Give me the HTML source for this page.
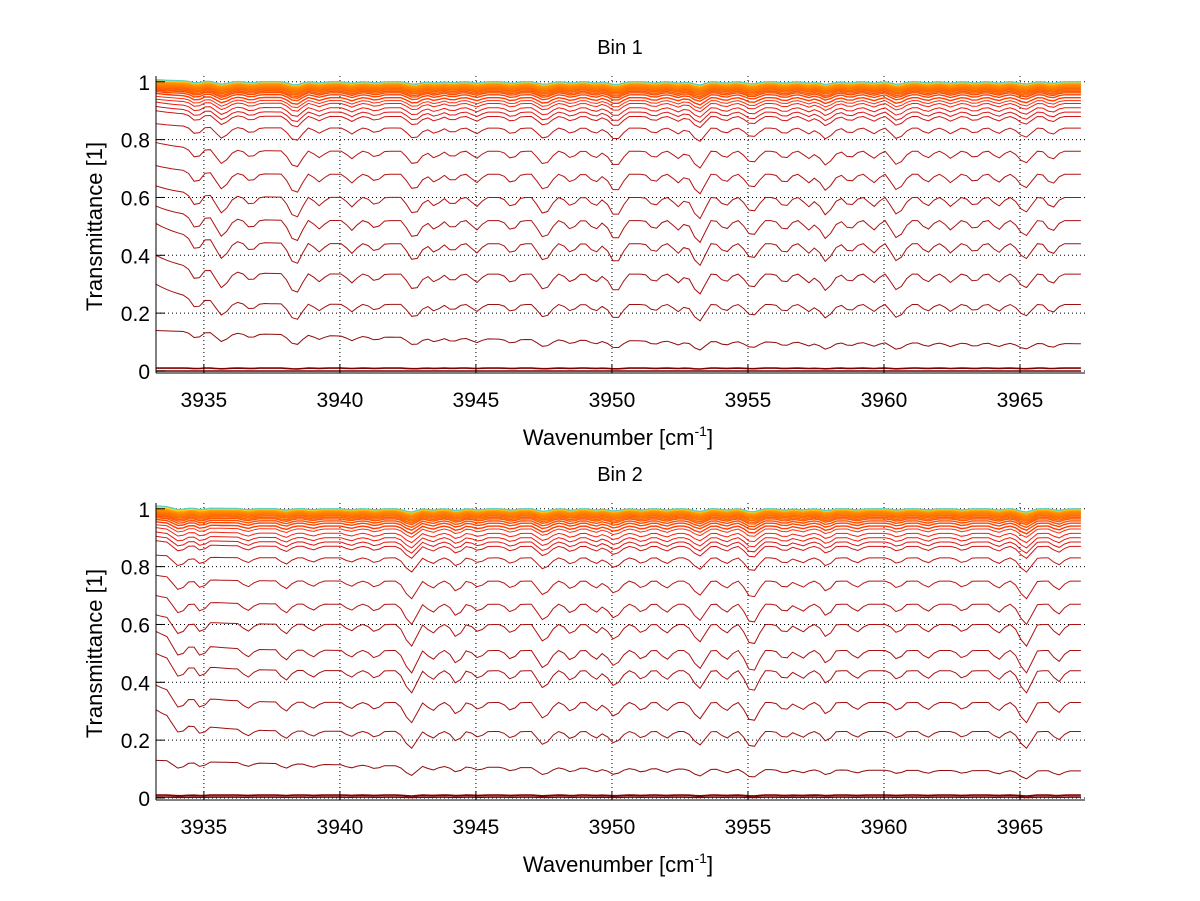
<!DOCTYPE html>
<html><head><meta charset="utf-8"><style>
body{margin:0;background:#fff}
svg{display:block}
text{font-family:"Liberation Sans",sans-serif;fill:#000}
</style></head><body>
<svg id="fig" width="1200" height="901" viewBox="0 0 1200 901" xmlns="http://www.w3.org/2000/svg">
<rect width="1200" height="901" fill="#fff"/>
</svg>
<script>
// ---- data ----
const xTicks = [3935, 3940, 3945, 3950, 3955, 3960, 3965];
const yTicks = [0, 0.2, 0.4, 0.6, 0.8, 1];
const yTickLabels = ["0", "0.2", "0.4", "0.6", "0.8", "1"];
const xDomain = [3933.24, 3967.39];
const yDomain = [-0.007, 1.02];
// absorption line positions (cm^-1) and relative strengths
const bin1LinePos = [3934.72,3935.68,3936.73,3938.36,3939.24,3940.44,3941.31,3942.73,3943.49,3944.14,3945.02,3946.32,3947.52,3948.5,3949.38,3950.14,3951.56,3952.43,3953.19,3954.17,3955.15,3956.35,3957.23,3957.88,3958.75,3959.62,3960.5,3961.59,3962.46,3963.33,3964.2,3965.18,3966.17];
const bin1LineStr = [0.6,0.8,0.4,1.0,0.35,0.4,0.35,0.8,0.4,0.35,0.4,0.45,0.8,0.4,0.4,0.9,0.4,0.4,1.0,0.4,0.7,0.45,0.4,0.8,0.4,0.4,0.8,0.4,0.4,0.4,0.4,0.7,0.5];
const bin2LinePos = [3934.1,3934.9,3936.6,3938.0,3939.0,3940.4,3941.3,3942.6,3943.4,3944.3,3945.1,3946.3,3947.5,3948.5,3949.4,3950.1,3951.1,3952.0,3953.2,3954.2,3955.15,3956.35,3957.0,3957.9,3959.0,3960.5,3961.6,3962.9,3964.2,3965.2,3966.4];
const bin2LineStr = [0.7,0.5,0.35,0.45,0.3,0.3,0.35,1.0,0.4,0.6,0.35,0.4,0.8,0.45,0.4,0.7,0.4,0.4,0.8,0.4,1.0,0.4,0.35,0.6,0.35,0.4,0.35,0.35,0.4,1.0,0.5];
// series baseline levels: start (left edge) and mean
const bin1Start = [0.0,0.01,0.14,0.30,0.40,0.51,0.57,0.64,0.71,0.79,0.855,0.90,0.915,0.93,0.94,0.95,0.96,0.966,0.971,0.975,0.979,0.983,0.986,0.989,0.992,0.995,0.998,1.001,1.004,1.007];
const bin1Mean  = [0.0,0.01,0.09,0.23,0.335,0.44,0.52,0.60,0.68,0.76,0.84,0.88,0.895,0.91,0.925,0.935,0.945,0.955,0.962,0.967,0.972,0.976,0.98,0.983,0.986,0.989,0.992,0.995,0.998,1.0];
const bin2Start = [0.003,0.01,0.13,0.305,0.39,0.50,0.576,0.633,0.70,0.77,0.84,0.89,0.905,0.92,0.935,0.945,0.955,0.963,0.969,0.974,0.978,0.982,0.986,0.989,0.992,0.995,0.998,1.001,1.004,1.01];
const bin2Mean  = [0.003,0.01,0.09,0.23,0.33,0.44,0.51,0.60,0.67,0.75,0.83,0.87,0.885,0.90,0.915,0.93,0.94,0.95,0.958,0.965,0.97,0.975,0.979,0.983,0.986,0.989,0.992,0.995,0.998,1.0];
const seriesColor = ["#7a0000","#800000","#900a0a","#a01010","#a51010","#a81111","#ac1212","#b01212","#b41313","#b81414","#c01414","#d41414","#e01414","#ea1a10","#f42210","#ff2e10","#ff3a00","#ff4400","#ff4e00","#ff5800","#ff6000","#ff6800","#ff7000","#ff7800","#ff8000","#ff8800","#ff9400","#ffa800","#ffd020","#60d0c0"];

// ---- drawing ----
const NS = "http://www.w3.org/2000/svg";
const svg = document.getElementById("fig");
const X0 = 156, X1 = 1085;
function mk(tag, attrs, parent) {
  const e = document.createElementNS(NS, tag);
  for (const k in attrs) e.setAttribute(k, attrs[k]);
  (parent || svg).appendChild(e);
  return e;
}
function xScale(v) { return X0 + (v - xDomain[0]) / (xDomain[1] - xDomain[0]) * (X1 - X0); }

function drawPanel(idx, top, bottom, title, linePos, lineStr, starts, means) {
  const yScale = v => bottom - (v - yDomain[0]) / (yDomain[1] - yDomain[0]) * (bottom - top);
  const g = mk("g", {});
  
  
  const cp = mk("clipPath", {id: "clip" + idx}, g);
  mk("rect", {x: X0, y: top - 3, width: X1 - X0, height: bottom - top + 3}, cp);
  const grid = mk("g", {stroke: "#000", "stroke-width": 1, "stroke-dasharray": "1,3"}, g);
  
  
  xTicks.forEach(t => mk("line", {x1: xScale(t), x2: xScale(t), y1: top, y2: bottom}, grid));
  yTicks.forEach(t => mk("line", {x1: X0, x2: X1, y1: yScale(t), y2: yScale(t)}, grid));
  const sg = mk("g", {"clip-path": "url(#clip" + idx + ")", fill: "none"}, g);
  
  
  for (let s = 0; s < starts.length; s++) {
    let d = "";
    for (let x = xDomain[0]; x <= xDomain[1] + 0.01; x += 0.2) {
      const decay = s === 2 ? 14 : 1.3;
      const base = means[s] + (starts[s] - means[s]) * Math.exp(-(x - xDomain[0]) / decay);
      let dip = 0;
      for (let i = 0; i < linePos.length; i++) {
        const w = lineStr[i] >= 0.7 ? 0.45 : 0.35;
        const r = Math.abs(x - linePos[i]) / w;
        if (r < 1) dip += lineStr[i] * (1 - r);
      }
      const v = Math.max(0, Math.min(1, base));
      const gf = 0.85 * 4 * v * (1 - v) + 0.15 * Math.min(1, v * 5);
      const val = base - 0.085 * gf * dip;
      d += (d ? "L" : "M") + xScale(x).toFixed(1) + "," + yScale(val).toFixed(1);
    }
    const p = mk("path", {d: d, stroke: seriesColor[s], "stroke-width": s < 2 ? 1.6 : (s > 15 ? 1.4 : 1)}, sg);
    
    
  }
  const ax = mk("g", {stroke: "#000", "stroke-width": 1}, g);
  
  
  mk("line", {x1: X0, x2: X0, y1: top, y2: bottom}, ax);
  mk("line", {x1: X0, x2: X1, y1: bottom, y2: bottom}, ax);
  xTicks.forEach(t => mk("line", {x1: xScale(t), x2: xScale(t), y1: bottom, y2: bottom - 9}, ax));
  yTicks.forEach(t => mk("line", {x1: X0, x2: X0 + 9, y1: yScale(t), y2: yScale(t)}, ax));
  xTicks.forEach(t => {
    const e = mk("text", {x: xScale(t), y: bottom + 34, "font-size": 21, "text-anchor": "middle"}, g);
    e.textContent = String(t);
    
    
  });
  yTicks.forEach((t, i) => {
    const e = mk("text", {x: 150, y: yScale(t) + 8, "font-size": 21, "text-anchor": "end"}, g);
    e.textContent = yTickLabels[i];
    
    
  });
  const ti = mk("text", {x: 620, y: top - 22, "font-size": 20, "text-anchor": "middle"}, g);
  ti.textContent = title;
  
  
  const xl = mk("text", {x: 618, y: bottom + 72, "font-size": 22, "text-anchor": "middle"}, g);
  
  
  xl.appendChild(document.createTextNode("Wavenumber [cm"));
  const sup = mk("tspan", {dy: -9, "font-size": 14}, xl);
  sup.textContent = "-1";
  const t2 = mk("tspan", {dy: 9}, xl);
  t2.textContent = "]";
  const yl = mk("text", {x: 0, y: 0, "font-size": 22, "text-anchor": "middle",
    transform: "translate(102," + ((top + bottom) / 2 + 2) + ") rotate(-90)"}, g);
  yl.textContent = "Transmittance [1]";
  
  
}
drawPanel(1, 76, 373, "Bin 1", bin1LinePos, bin1LineStr, bin1Start, bin1Mean);
drawPanel(2, 503, 800, "Bin 2", bin2LinePos, bin2LineStr, bin2Start, bin2Mean);
</script>
</body></html>
